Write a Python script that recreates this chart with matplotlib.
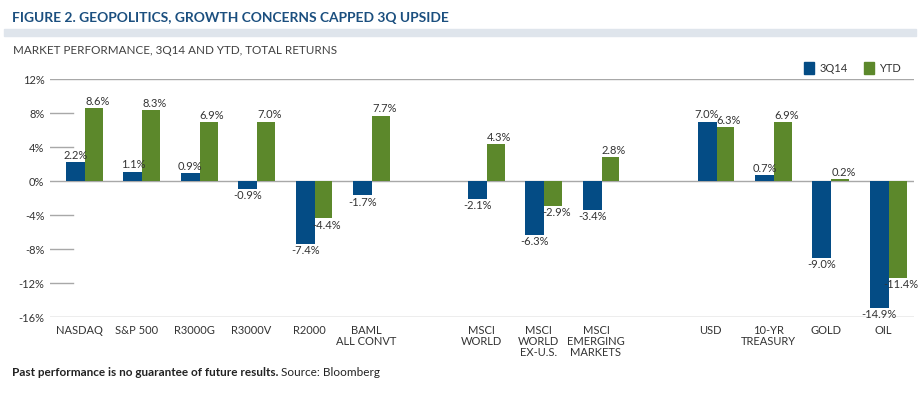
import numpy as np
import matplotlib
matplotlib.use("Agg")
import matplotlib.pyplot as plt
from matplotlib.patches import Patch, Rectangle

plt.rcParams['font.family'] = ['Lato', 'DejaVu Sans']

# Data: three groups of categories, separated by an empty slot
groups = [
    ["NASDAQ", "S&P 500", "R3000G", "R3000V", "R2000", "BAML\nALL CONVT"],
    ["MSCI\nWORLD", "MSCI\nWORLD\nEX-U.S.", "MSCI\nEMERGING\nMARKETS"],
    ["USD", "10-YR\nTREASURY", "GOLD", "OIL"],
]
q3_2014 = [2.2, 1.1, 0.9, -0.9, -7.4, -1.7, -2.1, -6.3, -3.4, 7.0, 0.7, -9.0, -14.9]
ytd = [8.6, 8.3, 6.9, 7.0, -4.4, 7.7, 4.3, -2.9, 2.8, 6.3, 6.9, 0.2, -11.4]
yticks = [12, 8, 4, 0, -4, -8, -12, -16]

labels = []
pos = []
slot = 0
for g in groups:
    for name in g:
        labels.append(name)
        pos.append(slot)
        slot += 1
    slot += 1
pos = np.array(pos, dtype=float)

blue = "#044c85"
green = "#5c882b"
txt = "#333333"
grid = "#a8a8a8"

fig = plt.figure(figsize=(9.23, 3.96), dpi=100)
W, H = 923, 396
ax = fig.add_axes([50 / W, (H - 317) / H, 864 / W, 238 / H])

width = 0.33
ax.bar(pos - width / 2, q3_2014, width=width, color=blue, zorder=2)
ax.bar(pos + width / 2 - 0.01, ytd, width=width - 0.02, color=green, zorder=2)

def put(x, v):
    if v >= 0:
        ax.text(x, v + 0.15, f"{v:.1f}%", ha="center", va="bottom", fontsize=8, color=txt, zorder=4)
    else:
        ax.text(x, v - 0.15, f"{v:.1f}%", ha="center", va="top", fontsize=8, color=txt, zorder=4)

for x, a, b in zip(pos, q3_2014, ytd):
    put(x - width / 2, a)
    put(x + width / 2 + 0.05, b)

ax.set_xlim(-0.61, 14.44)
ax.set_ylim(-16, 12)

for y in yticks:
    if y in (12, 0, -16):
        ax.axhline(y, color=grid, lw=1, zorder=1)
    else:
        ax.axhline(y, xmin=0, xmax=0.027, color=grid, lw=1, zorder=1)

ax.set_yticks(yticks)
ax.set_yticklabels([f"{y}%" for y in yticks], fontsize=8, color=txt)
ax.set_xticks(pos - 0.1)
ax.set_xticklabels(labels, fontsize=8, color=txt, linespacing=1.0, va="top")
ax.tick_params(length=0, axis="y", pad=4)
ax.tick_params(length=0, axis="x", pad=6)
for s in ax.spines.values():
    s.set_visible(False)

# Header
fig.text(12 / W, 1 - 18 / H, "FIGURE 2. GEOPOLITICS, GROWTH CONCERNS CAPPED 3Q UPSIDE",
         fontsize=9.9, fontweight="bold", color="#1b4f7f", va="center", ha="left")
fig.patches.append(Rectangle((4 / W, 1 - 36 / H), 912 / W, 7 / H, transform=fig.transFigure,
                             color="#dfe5ec", zorder=0))
fig.text(13 / W, 1 - 50 / H, "MARKET PERFORMANCE, 3Q14 AND YTD, TOTAL RETURNS",
         fontsize=8.4, color="#404040", va="center", ha="left")

fig.legend(handles=[Patch(color=blue, label="3Q14"), Patch(color=green, label="YTD")],
           loc="center right", bbox_to_anchor=(911 / W, 1 - 68 / H), ncol=2, frameon=False,
           fontsize=8, handlelength=0.9, handleheight=1.2, handletextpad=0.5, columnspacing=1.4,
           labelcolor=txt)

# Footer
t = fig.text(12 / W, 1 - 373 / H, "Past performance is no guarantee of future results.",
             fontsize=8.5, fontweight="bold", color="#222222", va="center", ha="left")
ax.annotate(" Source: Bloomberg", xy=(1, 0.5), xycoords=t, va="center", ha="left",
            fontsize=8.5, color="#222222", annotation_clip=False)

fig.savefig("out.png", dpi=100)
